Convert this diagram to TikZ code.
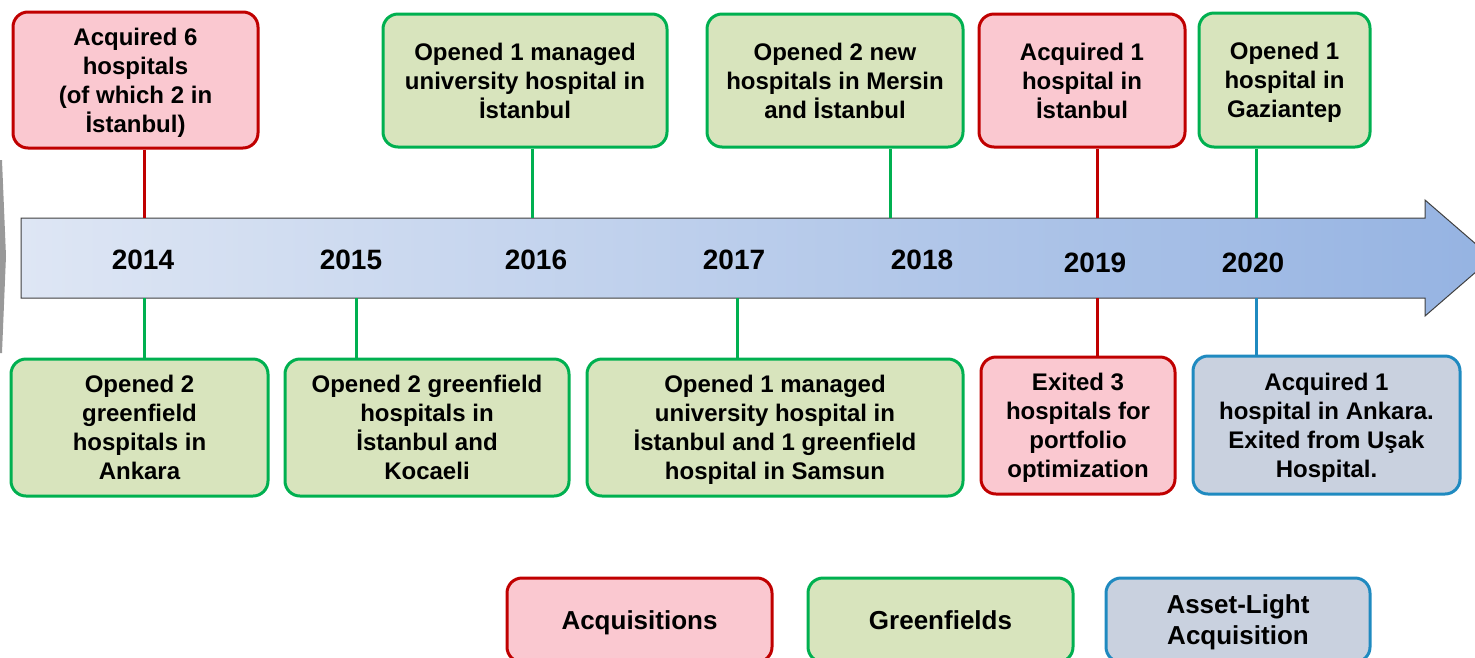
\documentclass[tikz,border=0pt]{standalone}
\usepackage{fontspec}
\setmainfont{Liberation Sans}
\usepackage{tikz}
\usetikzlibrary{positioning}
\definecolor{MilAcq}{HTML}{C00000}
\definecolor{MilGreen}{HTML}{00B050}
\definecolor{MilBlue}{HTML}{1F8AC0}
\definecolor{MilArrowL}{HTML}{DEE6F4}
\definecolor{MilArrowR}{HTML}{95B3E2}
\definecolor{MilAcqFill}{HTML}{FAC8D0}
\definecolor{MilGreenFill}{HTML}{D8E4BD}
\definecolor{MilBlueFill}{HTML}{C9D1DF}
\tikzset{
  every node/.style = {text=black},
  event/.style = {
    draw,
    line width=3pt,
    rounded corners=15pt,
    align=center,
    inner sep=0pt,
    text depth=0pt,
    font=\fontsize{24}{29}\selectfont\bfseries
  },
  event acq/.style = {event, draw=MilAcq, fill=MilAcqFill},
  event green/.style = {event, draw=MilGreen, fill=MilGreenFill},
  event light/.style = {event, draw=MilBlue, fill=MilBlueFill},
  legend key/.style = {font=\fontsize{26}{31}\selectfont\bfseries,
    minimum height=84pt},
  year/.style = {font=\fontsize{28}{32}\selectfont\bfseries, inner sep=0pt},
  stem/.style = {line width=3pt},
  stem acq/.style = {stem, draw=MilAcq},
  stem green/.style = {stem, draw=MilGreen},
  stem light/.style = {stem, draw=MilBlue},
}

\begin{document}
\begin{tikzpicture}[x=1pt,y=-1pt]
  \useasboundingbox (0,0) rectangle (1475,657);

  % timeline body
  \fill[black!40] (0,160) -- (2,160) -- (6,256) -- (2,353) -- (0,353) -- cycle;
  \draw[left color=MilArrowL, right color=MilArrowR, draw=black!75, line width=1pt]
    (21,218) -- (1425,218) -- (1425,200) -- (1492,258) -- (1425,316)
    -- (1425,298) -- (21,298) -- cycle;

  \node[year] (y14) at (143,260) {2014};
  \node[year] (y15) at (351,260) {2015};
  \node[year] (y16) at (536,260) {2016};
  \node[year] (y17) at (734,260) {2017};
  \node[year] (y18) at (922,260) {2018};
  \node[year] (y19) at (1095,263) {2019};
  \node[year] (y20) at (1253,263) {2020};

  % events above
  \node[event acq, minimum width=245pt, minimum height=136pt] (t14) at (135.5,80)
    {Acquired 6\\hospitals\\(of which 2 in\\İstanbul)};
  \node[event green, minimum width=284pt, minimum height=133pt] (t16) at (525,80.5)
    {Opened 1 managed\\university hospital in\\İstanbul};
  \node[event green, minimum width=256pt, minimum height=133pt] (t18) at (835,80.5)
    {Opened 2 new\\hospitals in Mersin\\and İstanbul};
  \node[event acq, minimum width=206pt, minimum height=133pt] (t19) at (1082,80.5)
    {Acquired 1\\hospital in\\İstanbul};
  \node[event green, minimum width=171pt, minimum height=134pt] (t20) at (1284.5,80)
    {Opened 1\\hospital in\\Gaziantep};

  % events below
  \node[event green, minimum width=257pt, minimum height=137pt] (b14) at (139.5,427.5)
    {Opened 2\\greenfield\\hospitals in\\Ankara};
  \node[event green, minimum width=284pt, minimum height=137pt] (b15) at (427,427.5)
    {Opened 2 greenfield\\hospitals in\\İstanbul and\\Kocaeli};
  \node[event green, minimum width=376pt, minimum height=137pt] (b17) at (775,427.5)
    {Opened 1 managed\\university hospital in\\İstanbul and 1 greenfield\\hospital in Samsun};
  \node[event acq, minimum width=194pt, minimum height=137pt] (b19) at (1078,425.5)
    {Exited 3\\hospitals for\\portfolio\\optimization};
  \node[event light, minimum width=267pt, minimum height=138pt] (b20) at (1326.5,425)
    {Acquired 1\\hospital in Ankara.\\Exited from Uşak\\Hospital.};

  % stems
  \coordinate (s14a) at (144,218);
  \coordinate (s16a) at (532,218);
  \coordinate (s18a) at (890,218);
  \coordinate (s19a) at (1097,218);
  \coordinate (s20a) at (1256,218);
  \coordinate (s14b) at (144,298);
  \coordinate (s15b) at (356,298);
  \coordinate (s17b) at (737,298);
  \coordinate (s19b) at (1097,298);
  \coordinate (s20b) at (1256,298);

  \draw[stem acq] (s14a |- t14.south) -- (s14a);
  \draw[stem green] (s16a |- t16.south) -- (s16a);
  \draw[stem green] (s18a |- t18.south) -- (s18a);
  \draw[stem acq] (s19a |- t19.south) -- (s19a);
  \draw[stem green] (s20a |- t20.south) -- (s20a);
  \draw[stem green] (s14b |- b14.north) -- (s14b);
  \draw[stem green] (s15b |- b15.north) -- (s15b);
  \draw[stem green] (s17b |- b17.north) -- (s17b);
  \draw[stem acq] (s19b |- b19.north) -- (s19b);
  \draw[stem light] (s20b |- b20.north) -- (s20b);

  % legend
  \node[event acq, legend key, minimum width=265pt] (legacq) at (639.5,620) {Acquisitions};
  \node[event green, legend key, minimum width=265pt] (leggreen) at (940.5,620) {Greenfields};
  \node[event light, legend key, minimum width=264pt] (leglight) at (1238,620)
    {Asset-Light\\Acquisition};
\end{tikzpicture}
\end{document}
